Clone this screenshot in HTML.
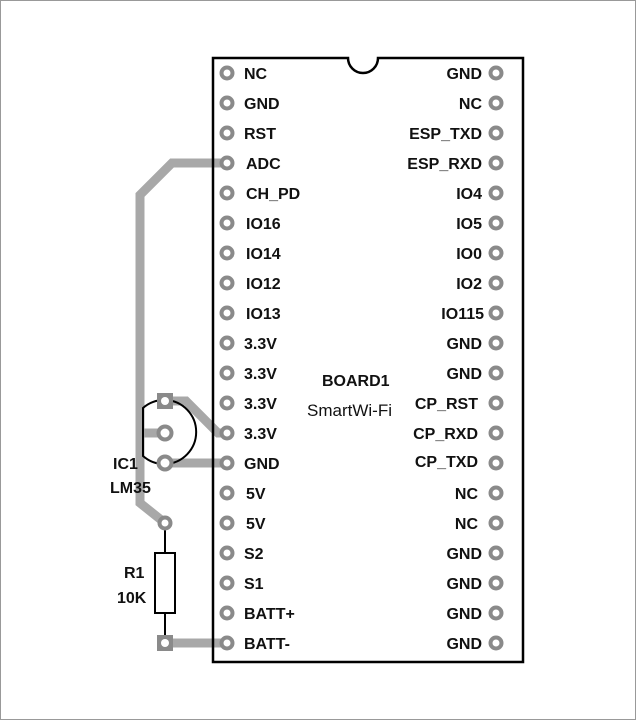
<!DOCTYPE html>
<html><head><style>
html,body{margin:0;padding:0;background:#fff;}
svg{display:block;}
text{font-family:"Liberation Sans Narrow","Liberation Sans",sans-serif;font-weight:bold;font-size:16px;fill:#111;}
</style></head><body>
<svg width="636" height="720" viewBox="0 0 636 720" xmlns="http://www.w3.org/2000/svg">
<rect x="0.5" y="0.5" width="635" height="719" fill="#fff" stroke="#999" stroke-width="1"/>
<g stroke="#a8a8a8" stroke-width="9" fill="none" stroke-linejoin="miter">
<polyline points="227,163 172,163 140,195 140,503 165,523"/>
<polyline points="140,433 165,433"/>
<polyline points="165,401 186,401 218,433 227,433"/>
<polyline points="165,463 227,463"/>
<polyline points="165,643 227,643"/>
</g>
<path d="M213,58 H348 A15,15 0 0 0 378,58 H523 V662 H213 Z" fill="none" stroke="#000" stroke-width="2.5"/>
<path d="M143,408 A32,32 0 1 1 143,456 Z" fill="none" stroke="#000" stroke-width="2"/>
<rect x="157" y="393" width="16" height="16" fill="#8a8a8a"/>
<circle cx="165" cy="401" r="4" fill="#fff"/>
<circle cx="165" cy="433" r="6.5" fill="#fff" stroke="#8a8a8a" stroke-width="4"/>
<circle cx="165" cy="463" r="6.5" fill="#fff" stroke="#8a8a8a" stroke-width="4"/>
<line x1="165" y1="523" x2="165" y2="643" stroke="#000" stroke-width="2"/>
<rect x="155" y="553" width="20" height="60" fill="#fff" stroke="#000" stroke-width="2"/>
<circle cx="165" cy="523" r="5.5" fill="#fff" stroke="#8a8a8a" stroke-width="4"/>
<rect x="157" y="635" width="16" height="16" fill="#8a8a8a"/>
<circle cx="165" cy="643" r="4" fill="#fff"/>
<text x="113" y="469">IC1</text>
<text x="110" y="493">LM35</text>
<text x="124" y="578">R1</text>
<text x="117" y="603">10K</text>
<g fill="#fff" stroke="#8a8a8a" stroke-width="4">
<circle cx="227" cy="73" r="5.5"/><circle cx="227" cy="103" r="5.5"/><circle cx="227" cy="133" r="5.5"/><circle cx="227" cy="163" r="5.5"/><circle cx="227" cy="193" r="5.5"/><circle cx="227" cy="223" r="5.5"/><circle cx="227" cy="253" r="5.5"/><circle cx="227" cy="283" r="5.5"/><circle cx="227" cy="313" r="5.5"/><circle cx="227" cy="343" r="5.5"/><circle cx="227" cy="373" r="5.5"/><circle cx="227" cy="403" r="5.5"/><circle cx="227" cy="433" r="5.5"/><circle cx="227" cy="463" r="5.5"/><circle cx="227" cy="493" r="5.5"/><circle cx="227" cy="523" r="5.5"/><circle cx="227" cy="553" r="5.5"/><circle cx="227" cy="583" r="5.5"/><circle cx="227" cy="613" r="5.5"/><circle cx="227" cy="643" r="5.5"/>
<circle cx="496" cy="73" r="5.5"/><circle cx="496" cy="103" r="5.5"/><circle cx="496" cy="133" r="5.5"/><circle cx="496" cy="163" r="5.5"/><circle cx="496" cy="193" r="5.5"/><circle cx="496" cy="223" r="5.5"/><circle cx="496" cy="253" r="5.5"/><circle cx="496" cy="283" r="5.5"/><circle cx="496" cy="313" r="5.5"/><circle cx="496" cy="343" r="5.5"/><circle cx="496" cy="373" r="5.5"/><circle cx="496" cy="403" r="5.5"/><circle cx="496" cy="433" r="5.5"/><circle cx="496" cy="463" r="5.5"/><circle cx="496" cy="493" r="5.5"/><circle cx="496" cy="523" r="5.5"/><circle cx="496" cy="553" r="5.5"/><circle cx="496" cy="583" r="5.5"/><circle cx="496" cy="613" r="5.5"/><circle cx="496" cy="643" r="5.5"/>
</g>
<g>
<text x="244" y="79">NC</text><text x="244" y="109">GND</text><text x="244" y="139">RST</text><text x="246" y="169">ADC</text><text x="246" y="199">CH_PD</text><text x="246" y="229">IO16</text><text x="246" y="259">IO14</text><text x="246" y="289">IO12</text><text x="246" y="319">IO13</text><text x="244" y="349">3.3V</text><text x="244" y="379">3.3V</text><text x="244" y="409">3.3V</text><text x="244" y="439">3.3V</text><text x="244" y="469">GND</text><text x="246" y="499">5V</text><text x="246" y="529">5V</text><text x="244" y="559">S2</text><text x="244" y="589">S1</text><text x="244" y="619">BATT+</text><text x="244" y="649">BATT-</text>
</g>
<g text-anchor="end">
<text x="482" y="79">GND</text><text x="482" y="109">NC</text><text x="482" y="139">ESP_TXD</text><text x="482" y="169">ESP_RXD</text><text x="482" y="199">IO4</text><text x="482" y="229">IO5</text><text x="482" y="259">IO0</text><text x="482" y="289">IO2</text><text x="484" y="319">IO115</text><text x="482" y="349">GND</text><text x="482" y="379">GND</text><text x="478" y="409">CP_RST</text><text x="478" y="439">CP_RXD</text><text x="478" y="467">CP_TXD</text><text x="478" y="499">NC</text><text x="478" y="529">NC</text><text x="482" y="559">GND</text><text x="482" y="589">GND</text><text x="482" y="619">GND</text><text x="482" y="649">GND</text>
</g>
<text x="322" y="386">BOARD1</text>
<text x="307" y="416" style="font-size:17px;font-weight:normal">SmartWi-Fi</text>
</svg>
</body></html>
